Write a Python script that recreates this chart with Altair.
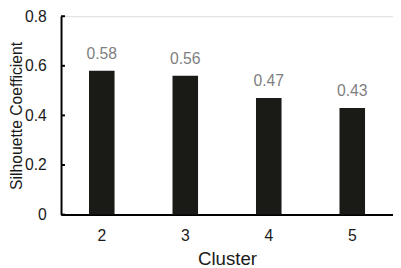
import altair as alt
import pandas as pd

clusters = ["2", "3", "4", "5"]
scores = [0.58, 0.56, 0.47, 0.43]
score_labels = ["0.58", "0.56", "0.47", "0.43"]
y_ticks = [0, 0.2, 0.4, 0.6, 0.8]

df = pd.DataFrame({"Cluster": clusters, "Score": scores, "Label": score_labels})
ticks_df = pd.DataFrame({"Score": y_ticks})

FONT = "Liberation Sans"

x_enc = alt.X(
    "Cluster:N",
    sort=clusters,
    title="Cluster",
    scale=alt.Scale(paddingInner=0.694, paddingOuter=0.335),
    axis=alt.Axis(
        labelAngle=0,
        labelFontSize=16,
        labelFont=FONT,
        labelColor="#1a1a1a",
        labelPadding=13,
        ticks=False,
        tickSize=0,
        domainColor="#000000",
        domainWidth=2,
        titleFont=FONT,
        titleFontSize=19,
        titleFontWeight="normal",
        titleColor="#1a1a1a",
        titlePadding=7,
    ),
)

y_enc = alt.Y(
    "Score:Q",
    title="Silhouette Coefficient",
    scale=alt.Scale(domain=[0, 0.8], nice=False),
    axis=alt.Axis(
        values=y_ticks,
        format="~g",
        labelFontSize=16,
        labelFont=FONT,
        labelColor="#1a1a1a",
        labelPadding=15,
        ticks=False,
        tickSize=0,
        grid=False,
        domainColor="#000000",
        domainWidth=2,
        titleFont=FONT,
        titleFontSize=16,
        titleFontWeight="normal",
        titleColor="#1a1a1a",
        titlePadding=0,
    ),
)

bars = alt.Chart(df).mark_bar(color="#1a1a17").encode(x=x_enc, y=y_enc)
texts = alt.Chart(df).mark_text(
    baseline="bottom", dy=-9, fontSize=16, font=FONT, color="#7f7f7f"
).encode(x=alt.X("Cluster:N", sort=clusters), y="Score:Q", text="Label:N")
inner_ticks = alt.Chart(ticks_df).mark_rule(color="#000000", strokeWidth=2).encode(
    y="Score:Q", x=alt.value(0), x2=alt.value(4)
)

chart = (
    alt.layer(bars, texts, inner_ticks)
    .properties(
        width=338,
        height=202,
        autosize=alt.AutoSizeParams(type="none"),
        padding={"left": 54, "top": 6, "right": 0, "bottom": 52},
    )
    .configure_view(stroke=None)
    .configure(background="white")
)

chart.save("out.html", embed_options={"renderer": "svg", "actions": False})
